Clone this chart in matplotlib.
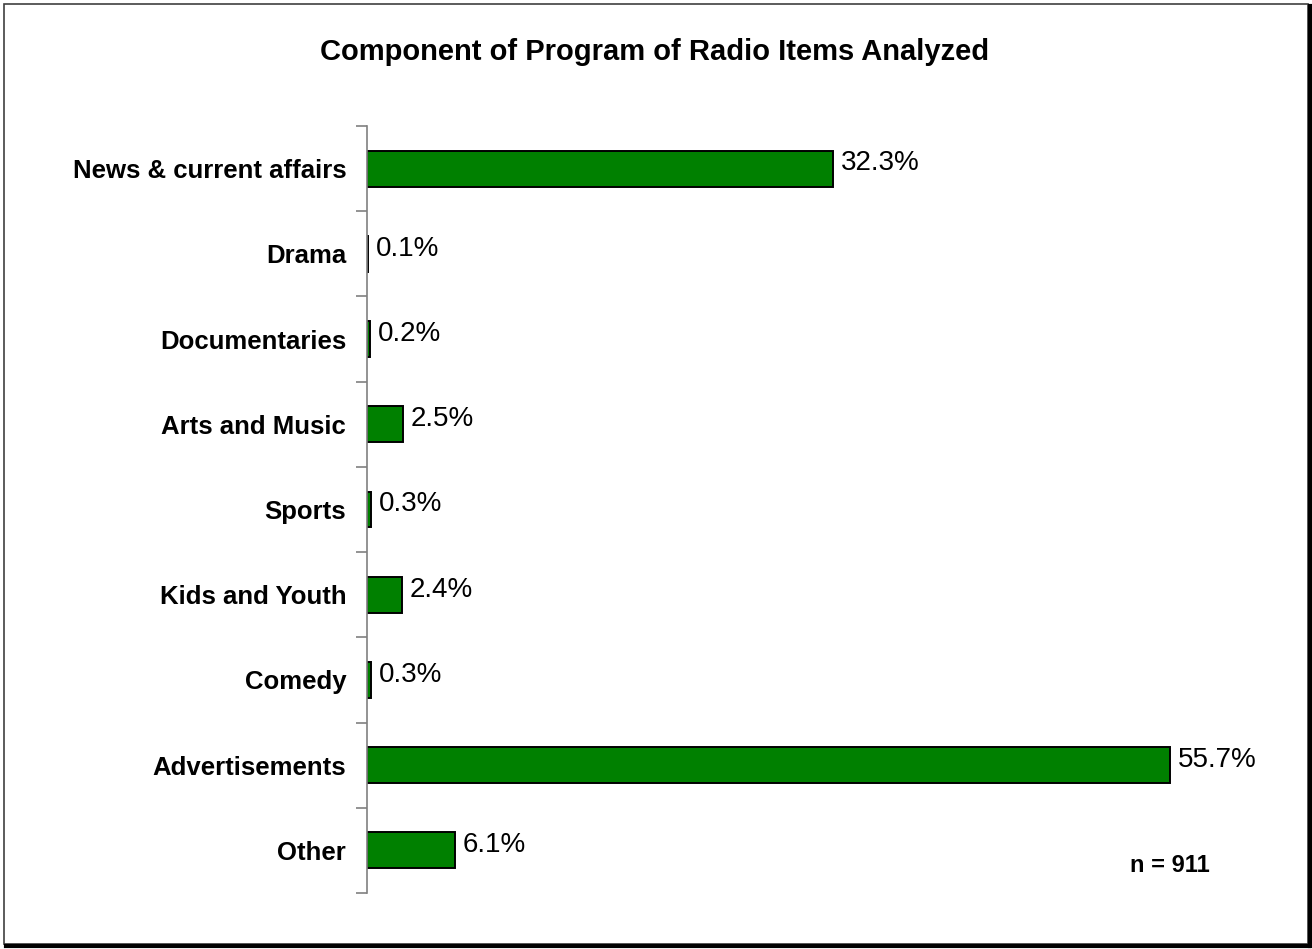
import matplotlib.pyplot as plt
from matplotlib.patches import Rectangle
from matplotlib.lines import Line2D

plt.rcParams['font.family'] = ['Liberation Sans', 'DejaVu Sans']

categories = ['News & current affairs', 'Drama', 'Documentaries', 'Arts and Music',
              'Sports', 'Kids and Youth', 'Comedy', 'Advertisements', 'Other']
shares = [32.3, 0.1, 0.2, 2.5, 0.3, 2.4, 0.3, 55.7, 6.1]
title = 'Component of Program of Radio Items Analyzed'
sample_note = 'n = 911'

W, H = 1312, 949
fig = plt.figure(figsize=(W / 100, H / 100), dpi=100)
ax = fig.add_axes([367 / W, 1 - 893 / H, (1232 - 367) / W, (893 - 126) / H])

pos = list(range(len(categories)))
ax.barh(pos, shares, height=0.42, color='#008000', edgecolor='black', linewidth=1.4)
for y, v in zip(pos, shares):
    ax.text(v + 0.55, y - 0.06, f'{v:.1f}%', va='center', ha='left', fontsize=20)

ax.set_xlim(0, 60)
ax.set_ylim(len(categories) - 0.5, -0.5)

# separators between categories as major ticks, names as minor ticks
ax.set_yticks([i - 0.5 for i in range(len(categories) + 1)])
ax.set_yticklabels([])
ax.tick_params(axis='y', which='major', length=8, width=1.2, color='#808080')
ax.set_yticks(pos, minor=True)
ax.set_yticklabels(categories, minor=True, fontsize=18.5, fontweight='bold')
ax.tick_params(axis='y', which='minor', length=0, pad=15)

ax.set_xticks([])
for s in ['top', 'right', 'bottom']:
    ax.spines[s].set_visible(False)
ax.spines['left'].set_color('#808080')
ax.spines['left'].set_linewidth(1.2)

fig.text(655 / W, 1 - 52 / H, title, ha='center', va='center', fontsize=21, fontweight='bold')
fig.text(1170 / W, 1 - 866 / H, sample_note, ha='center', va='center', fontsize=17, fontweight='bold')

# chart frame with a shadow on the right and bottom
fig.patches.append(Rectangle((4 / W, 1 - 944 / H), 1304 / W, 940 / H, transform=fig.transFigure,
                             fill=False, edgecolor='#404040', linewidth=1.2))
fig.lines.append(Line2D([6 / W, 1309 / W], [1 - 945.5 / H, 1 - 945.5 / H], transform=fig.transFigure,
                        color='black', linewidth=3))
fig.lines.append(Line2D([1309.5 / W, 1309.5 / W], [1 - 946 / H, 1 - 6 / H], transform=fig.transFigure,
                        color='black', linewidth=3))

fig.savefig('out.png', dpi=100, facecolor='white')
